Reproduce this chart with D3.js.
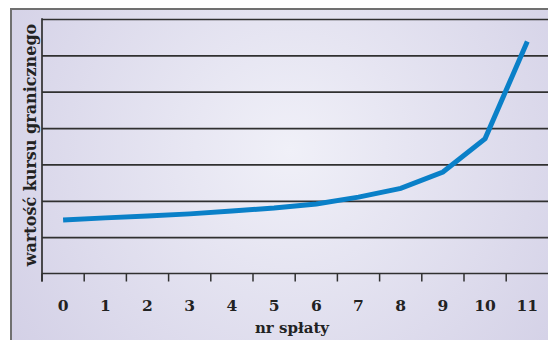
<!DOCTYPE html>
<html>
<head>
<meta charset="utf-8">
<script src="https://cdn.jsdelivr.net/npm/d3@7/dist/d3.min.js"></script>
<style>
html,body{margin:0;padding:0;background:#fff;}
svg{display:block;}
text{font-family:"DejaVu Serif",serif;font-weight:bold;fill:#222;}
</style>
</head>
<body>
<script>
const categories = ["0","1","2","3","4","5","6","7","8","9","10","11"];
const values = [1.47, 1.53, 1.58, 1.64, 1.72, 1.80, 1.91, 2.10, 2.34, 2.79, 3.71, 6.38];
const gridValues = [1, 2, 3, 4, 5, 6, 7];
const xTitle = "nr spłaty";
const yTitle = "wartość kursu granicznego";

const W = 548, H = 340;
const svg = d3.select("body").append("svg").attr("width", W).attr("height", H);

const defs = svg.append("defs");
const grad = defs.append("radialGradient").attr("id", "bg")
  .attr("gradientUnits", "userSpaceOnUse")
  .attr("cx", 290).attr("cy", 150).attr("r", 340);
grad.append("stop").attr("offset", "0%").attr("stop-color", "#f0f0f8");
grad.append("stop").attr("offset", "100%").attr("stop-color", "#d3d0e6");

// frame
svg.append("rect").attr("x", 11).attr("y", 9).attr("width", W - 11).attr("height", H - 9)
  .attr("fill", "url(#bg)");
svg.append("line").attr("x1", 10).attr("x2", W).attr("y1", 9).attr("y2", 9)
  .attr("stroke", "#707070").attr("stroke-width", 2);
svg.append("line").attr("x1", 11).attr("x2", 11).attr("y1", 8).attr("y2", H)
  .attr("stroke", "#707070").attr("stroke-width", 2);

const x = d3.scaleBand().domain(categories).range([42, 42 + 12 * 42.2]).padding(0);
const y = d3.scaleLinear().domain([0, 7]).range([273.5, 19]);

// gridlines
const gridAxis = d3.axisLeft(y).tickValues(gridValues).tickSize(-(W - 42)).tickFormat("");
const gg = svg.append("g").attr("transform", "translate(42,0)").call(gridAxis);
gg.select(".domain").remove();
gg.selectAll(".tick line").attr("stroke", "#303030").attr("stroke-width", 1.7);

// axes lines
svg.append("line").attr("x1", 42).attr("x2", W).attr("y1", y(0)).attr("y2", y(0))
  .attr("stroke", "#303030").attr("stroke-width", 1.7);
svg.append("line").attr("x1", 42).attr("x2", 42).attr("y1", y(7) - 0.8).attr("y2", y(0) + 8)
  .attr("stroke", "#303030").attr("stroke-width", 1.7);

// tick marks at band boundaries
svg.append("g").selectAll("line").data(categories).join("line")
  .attr("x1", d => x(d)).attr("x2", d => x(d))
  .attr("y1", y(0)).attr("y2", y(0) + 8)
  .attr("stroke", "#303030").attr("stroke-width", 1.5);

// tick labels
const xAxis = d3.axisBottom(x).tickSize(0).tickPadding(0);
const xg = svg.append("g").attr("transform", `translate(0,${y(0)})`).call(xAxis);
xg.select(".domain").remove();
xg.selectAll(".tick text").attr("dy", null).attr("y", 37.5)
  .style("font-family", "'DejaVu Serif',serif").style("font-weight", "bold")
  .style("font-size", "15.5px").attr("fill", "#222");

// line
const line = d3.line()
  .x((d, i) => x(categories[i]) + x.bandwidth() / 2)
  .y(d => y(d));
svg.append("path").datum(values).attr("d", line)
  .attr("fill", "none").attr("stroke", "#0a80c8").attr("stroke-width", 5)
  .attr("stroke-linejoin", "miter").attr("stroke-linecap", "butt");

// titles
svg.append("text").attr("x", 292).attr("y", 333).attr("text-anchor", "middle")
  .style("font-size", "15px").text(xTitle);
svg.append("text").attr("transform", "translate(36,145) rotate(-90)")
  .attr("text-anchor", "middle").style("font-size", "16px").text(yTitle);
</script>
</body>
</html>
